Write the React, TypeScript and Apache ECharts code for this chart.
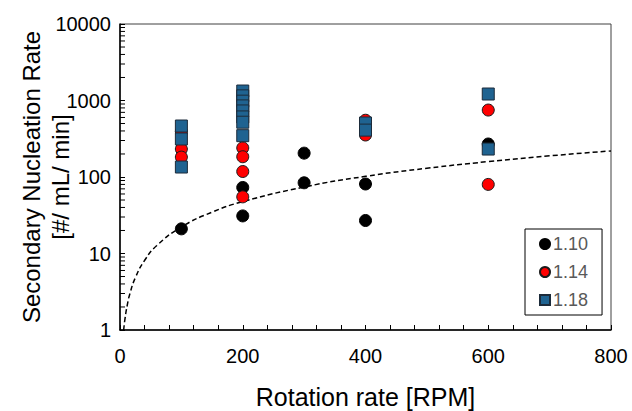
import React, { useEffect, useRef } from "react";
import * as echarts from "echarts";

// Rotation rate [RPM] vs secondary nucleation rate [#/mL/min]
const S110_X = [100, 200, 200, 300, 300, 400, 400, 600];
const S110_Y = [21, 31, 73, 205, 84, 81, 27, 270];

const S114_X = [100, 100, 100, 200, 200, 200, 200, 400, 400, 600, 600];
const S114_Y = [390, 232, 182, 240, 184, 118, 55, 552, 354, 750, 80];

const S118_X = [100, 100, 100, 200, 200, 200, 200, 200, 200, 200, 200, 400, 400, 600, 600];
const S118_Y = [464, 314, 135, 1330, 1150, 980, 850, 730, 610, 520, 347, 508, 410, 1216, 232];

// dashed power-law trend line
const TREND_X = [6, 8, 12, 16, 25, 40, 60, 100, 150, 200, 300, 400, 500, 600, 700, 800];
const TREND_Y = [1.0, 1.38, 2.15, 2.96, 4.83, 8.1, 12.7, 22.2, 34.7, 47.6, 74, 102, 130, 159, 189, 219];

const SERIES_NAMES = ["1.10", "1.14", "1.18"];
const Y_TITLE_LINES = ["Secondary Nucleation Rate", "[#/ mL/ min]"];
const X_TITLE = "Rotation rate [RPM]";
const Y_MINOR_TICKS = [
  2, 3, 4, 5, 6, 7, 8, 9,
  20, 30, 40, 50, 60, 70, 80, 90,
  200, 300, 400, 500, 600, 700, 800, 900,
  2000, 3000, 4000, 5000, 6000, 7000, 8000, 9000,
];

const FONT = "'Liberation Sans', Arial, sans-serif";

export default function App() {
  const ref = useRef<HTMLDivElement>(null);
  useEffect(() => {
    if (!ref.current) return;
    const chart = echarts.init(ref.current, undefined, { renderer: "svg" });
    const zip = (xs: number[], ys: number[]) => xs.map((x, i) => [x, ys[i]]);
    chart.setOption({
      animation: false,
      backgroundColor: "#ffffff",
      textStyle: { fontFamily: FONT },
      grid: {
        left: 120,
        right: 21,
        top: 24,
        bottom: 81,
        show: true,
        borderColor: "#404040",
        borderWidth: 1,
        outerBoundsMode: "none",
      },
      graphic: [
        {
          type: "text",
          x: 31,
          y: 177,
          rotation: Math.PI / 2,
          style: {
            text: Y_TITLE_LINES[0],
            font: `24px ${FONT}`,
            fill: "#000",
            textAlign: "center",
            textVerticalAlign: "middle",
          },
        },
        {
          type: "text",
          x: 60,
          y: 177,
          rotation: Math.PI / 2,
          style: {
            text: Y_TITLE_LINES[1],
            font: `24px ${FONT}`,
            fill: "#000",
            textAlign: "center",
            textVerticalAlign: "middle",
          },
        },
      ],
      legend: {
        data: SERIES_NAMES,
        orient: "vertical",
        left: 525,
        top: 229,
        padding: [6, 14, 6, 14],
        itemGap: 10,
        itemWidth: 10,
        itemHeight: 10,
        backgroundColor: "#ffffff",
        borderColor: "#000000",
        borderWidth: 1,
        borderRadius: 0,
        textStyle: { fontSize: 18, color: "#595959", fontFamily: FONT, lineHeight: 17, padding: [0, 0, 0, -2] },
      },
      xAxis: {
        type: "value",
        min: 0,
        max: 800,
        interval: 200,
        name: X_TITLE,
        nameLocation: "middle",
        nameGap: 54,
        nameTextStyle: { fontSize: 25, color: "#000", fontFamily: FONT },
        axisLine: { show: true, onZero: false, lineStyle: { color: "#000", width: 1.5 } },
        axisTick: { show: true, inside: true, length: 5, lineStyle: { color: "#000" } },
        minorTick: { show: true, splitNumber: 5, length: 5, lineStyle: { color: "#000" } },
        axisLabel: { fontSize: 20, color: "#000", margin: 16, fontFamily: FONT },
        splitLine: { show: false },
      },
      yAxis: {
        type: "log",
        logBase: 10,
        min: 1,
        max: 10000,
        axisLine: { show: true, onZero: false, lineStyle: { color: "#000", width: 1.5 } },
        axisTick: { show: true, inside: true, length: 5, lineStyle: { color: "#000" } },
        axisLabel: {
          fontSize: 20,
          color: "#000",
          margin: 9,
          fontFamily: FONT,
          formatter: (v: number) => String(Math.round(v)),
        },
        splitLine: { show: false },
      },
      series: [
        {
          name: "minorY",
          type: "custom",
          silent: true,
          z: 1,
          data: Y_MINOR_TICKS.map((v) => [0, v]),
          renderItem: (_p: any, api: any) => {
            const pt = api.coord([0, api.value(1)]);
            return {
              type: "line",
              shape: { x1: pt[0], y1: pt[1], x2: pt[0] + 5, y2: pt[1] },
              style: { stroke: "#000", lineWidth: 1 },
            };
          },
        },
        {
          name: "trend",
          type: "line",
          data: zip(TREND_X, TREND_Y),
          smooth: true,
          showSymbol: false,
          symbol: "none",
          silent: true,
          z: 2,
          lineStyle: { color: "#000", width: 1.5, type: [5, 3] },
        },
        {
          name: SERIES_NAMES[0],
          type: "scatter",
          data: zip(S110_X, S110_Y),
          symbol: "circle",
          symbolSize: 12,
          z: 3,
          itemStyle: { color: "#000000", borderColor: "#000000", borderWidth: 1, opacity: 1 },
        },
        {
          name: SERIES_NAMES[1],
          type: "scatter",
          data: zip(S114_X, S114_Y),
          symbol: "circle",
          symbolSize: 12,
          z: 4,
          itemStyle: { color: "#ff0000", borderColor: "#1a1a1a", borderWidth: 1, opacity: 1 },
        },
        {
          name: SERIES_NAMES[2],
          type: "scatter",
          data: zip(S118_X, S118_Y),
          symbol: "rect",
          symbolSize: 12,
          z: 5,
          itemStyle: { color: "#1f6391", borderColor: "#1c2b3a", borderWidth: 1, opacity: 1 },
        },
      ],
    });
    return () => chart.dispose();
  }, []);
  return (
    <div
      ref={ref}
      style={{ position: "fixed", left: 0, top: 0, width: 632, height: 411 }}
    />
  );
}
